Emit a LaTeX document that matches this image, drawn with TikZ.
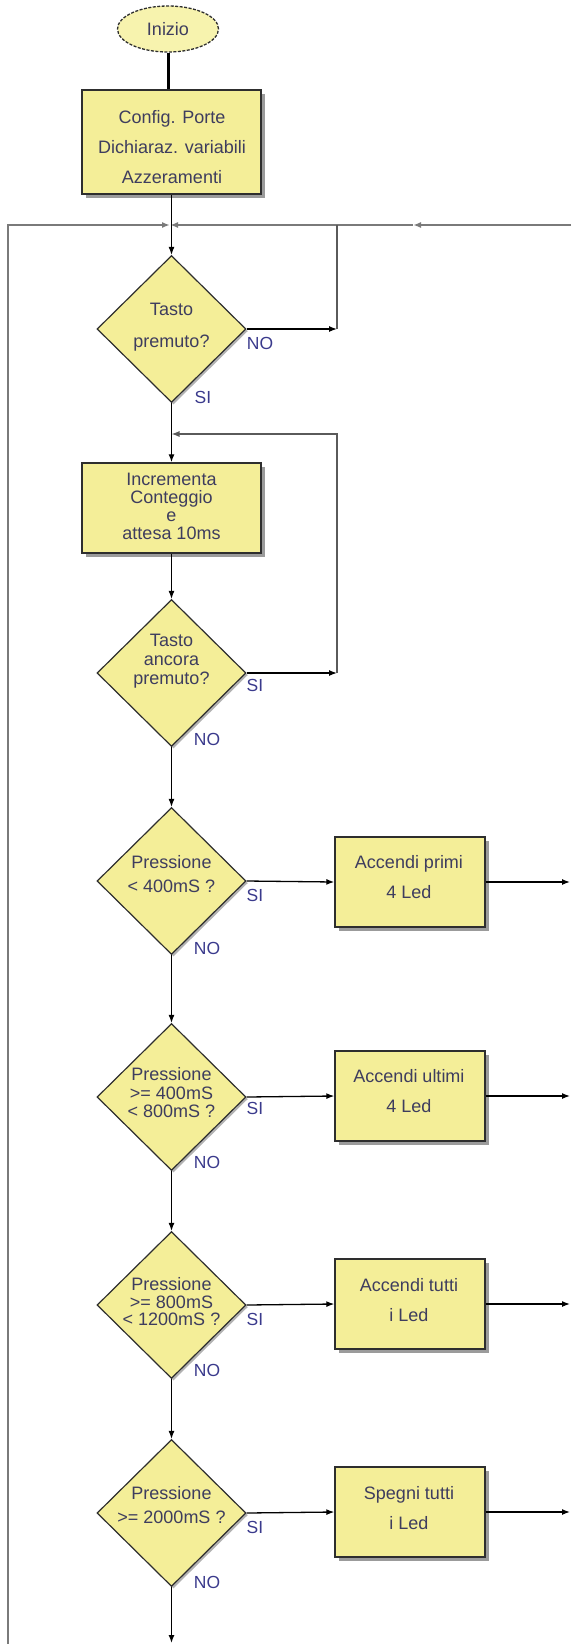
\documentclass[tikz,border=0pt]{standalone}
\usepackage{fontspec}
\setmainfont{Liberation Sans}
\usetikzlibrary{shapes.geometric,arrows.meta,shadows}
\definecolor{fillY}{HTML}{F4EE98}
\definecolor{fillE}{HTML}{F7F3AE}
\definecolor{txt}{HTML}{3E3D5E}
\definecolor{lbl}{HTML}{3A3A8C}
\definecolor{edge}{HTML}{2E2E2E}
\definecolor{loopc}{HTML}{5A5A5A}
\definecolor{topc}{HTML}{7A7A7A}
\begin{document}
\begin{tikzpicture}[x=1pt,y=-1pt,
  procbox/.style={draw=edge, line width=1.4pt, fill=fillY, minimum width=179pt, minimum height=104pt, inner sep=0pt,
    drop shadow={shadow xshift=3.5pt, shadow yshift=-3.5pt, opacity=0.6, fill=black!65}},
  actbox/.style={procbox, minimum width=150pt, minimum height=90pt},
  dec/.style={diamond, draw=edge, line width=1.2pt, fill=fillY, minimum width=149pt, minimum height=147pt, inner sep=0pt,
    drop shadow={shadow xshift=2pt, shadow yshift=-2pt, opacity=0.5, fill=black!60}},
  tx/.style={text=txt, font=\fontsize{18}{#1}\selectfont, align=center, inner sep=0pt},
  tx/.default=20,
  lab/.style={text=lbl, font=\fontsize{17.5}{18}\selectfont, inner sep=0pt},
  tip/.style={-{Latex[length=8pt,width=6pt]}},
  conn/.style={draw=black, line width=1.3pt},
  arr/.style={conn, tip},
  loopline/.style={draw=loopc, line width=1.1pt},
  topline/.style={draw=topc, line width=1.6pt},
]
\useasboundingbox (0,0) rectangle (571,1644);

% start
\node[ellipse, draw=edge, line width=1.3pt, dash pattern=on 3pt off 1.5pt, fill=fillE,
      minimum width=101pt, minimum height=46pt, inner sep=0pt, text=txt,
      font=\fontsize{18}{20}\selectfont] (ini) at (168,29) {Inizio};

% process boxes
\node[procbox] (cfg) at (171.5,142) {};
\node[tx=30] (tcfg) at (172,147) {Config. Porte\\Dichiaraz. variabili\\Azzeramenti};

\node[procbox, minimum height=90pt] (box2) at (171.5,508) {};
\node[tx=18] (tbox2) at (171.5,506) {Incrementa\\Conteggio\\e\\attesa 10ms};

% decisions
\node[dec] (d1) at (171.5,329) {};
\node[tx=32] (td1) at (171.5,327) {Tasto\\premuto?};
\node[dec] (d2) at (171.5,673) {};
\node[tx=19] (td2) at (171.5,661) {Tasto\\ancora\\premuto?};
\node[dec] (d3) at (171.5,881) {};
\node[tx=24] (td3) at (171.5,874) {Pressione\\\textless{} 400mS ?};
\node[dec] (d4) at (171.5,1097) {};
\node[tx=18.5] (td4) at (171.5,1093) {Pressione\\\textgreater= 400mS\\\textless{} 800mS ?};
\node[dec] (d5) at (171.5,1305) {};
\node[tx=17.5] (td5) at (171.5,1302) {Pressione\\\textgreater= 800mS\\\textless{} 1200mS ?};
\node[dec] (d6) at (171.5,1513) {};
\node[tx=24] (td6) at (171.5,1505) {Pressione\\\textgreater= 2000mS ?};

% action boxes
\node[actbox] (b3) at (410,882) {};
\node[tx=30] (tb3) at (409,877) {Accendi primi\\4 Led};
\node[actbox] (b4) at (410,1096) {};
\node[tx=30] (tb4) at (409,1091) {Accendi ultimi\\4 Led};
\node[actbox] (b5) at (410,1304) {};
\node[tx=30] (tb5) at (409,1300) {Accendi tutti\\i Led};
\node[actbox] (b6) at (410,1512) {};
\node[tx=30] (tb6) at (409,1508) {Spegni tutti\\i Led};

% labels
\node[lab] (no1) at (260,343) {NO};
\node[lab] (si1) at (203,397) {SI};
\node[lab] (si2) at (255,685) {SI};
\node[lab] (no2) at (207,739) {NO};
\node[lab] (si3) at (255,895) {SI};
\node[lab] (no3) at (207,948) {NO};
\node[lab] (si4) at (255,1108) {SI};
\node[lab] (no4) at (207,1162) {NO};
\node[lab] (si5) at (255,1319) {SI};
\node[lab] (no5) at (207,1370) {NO};
\node[lab] (si6) at (255,1527) {SI};
\node[lab] (no6) at (207,1582) {NO};

% coordinates
\coordinate (J0) at (171.5,225);
\coordinate (TL) at (8,225);
\coordinate (BL) at (8,1644);
\coordinate (TR) at (571,225);
\coordinate (MR) at (413,225);
\coordinate (R1) at (337,225);
\coordinate (J1) at (171.5,434);
\coordinate (R2) at (337,434);
\coordinate (e3) at (570,882);
\coordinate (e4) at (570,1096);
\coordinate (e5) at (570,1304);
\coordinate (e6) at (570,1512);
\coordinate (END) at (171.5,1643);

% connectors
\draw[line width=3pt] (ini.south) -- (ini.south |- cfg.north);
\draw[topline, tip, shorten >=1.5pt] (BL) -- (TL) -- (J0);
\draw[topline, tip] (TR) -- (MR);
\draw[topline, tip, shorten >=-1.5pt] (MR) -- (J0);
\draw[conn] (cfg.south) -- (J0);
\draw[arr] (J0) -- (d1.north);
\draw[arr] (d1.east) -- (R1 |- d1.east);
\draw[loopline] (R1 |- d1.east) -- (R1);
\draw[arr] (d1.south) -- (box2.north);
\draw[arr] (box2.south) -- (d2.north);
\draw[arr] (d2.east) -- (R2 |- d2.east);
\draw[loopline, tip] (R2 |- d2.east) -- (R2) -- (J1);
\draw[arr] (d2.south) -- (d3.north);
\draw[arr] (d3.east) -- (b3.west);
\draw[arr] (b3.east) -- (e3);
\draw[arr] (d3.south) -- (d4.north);
\draw[arr] (d4.east) -- (b4.west);
\draw[arr] (b4.east) -- (e4);
\draw[arr] (d4.south) -- (d5.north);
\draw[arr] (d5.east) -- (b5.west);
\draw[arr] (b5.east) -- (e5);
\draw[arr] (d5.south) -- (d6.north);
\draw[arr] (d6.east) -- (b6.west);
\draw[arr] (b6.east) -- (e6);
\draw[arr] (d6.south) -- (END);
\end{tikzpicture}
\end{document}
